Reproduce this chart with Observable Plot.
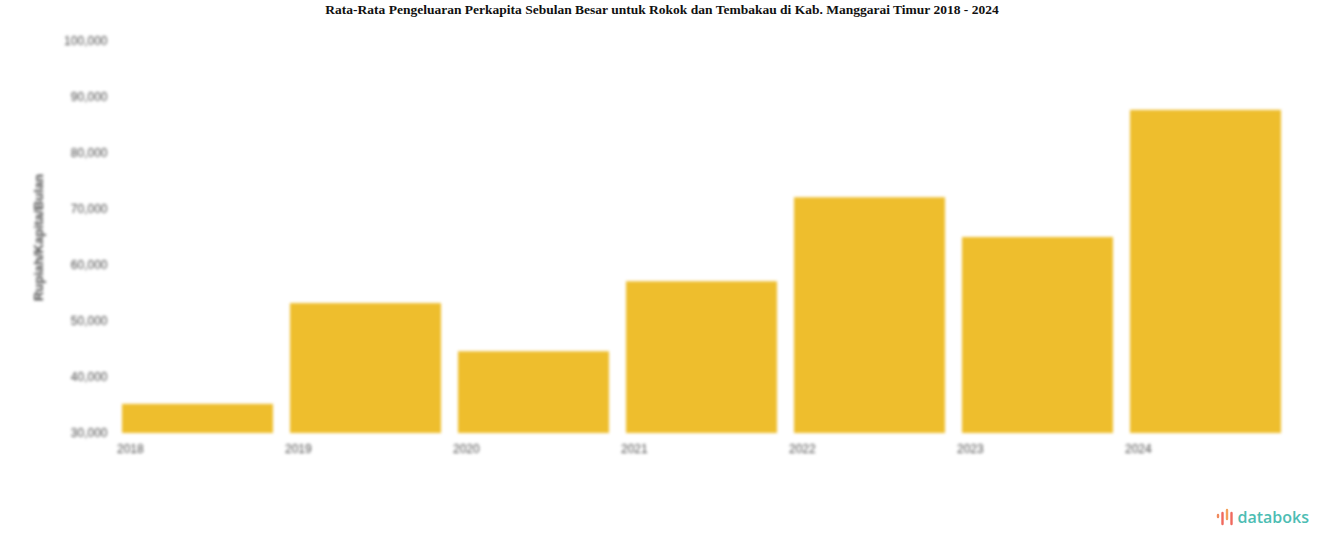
<!DOCTYPE html>
<html>
<head>
<meta charset="utf-8">
<script src="https://cdn.jsdelivr.net/npm/d3@7"></script>
<script src="https://cdn.jsdelivr.net/npm/@observablehq/plot@0.6"></script>
<style>
  html, body { margin: 0; padding: 0; background: #fff; width: 1324px; height: 547px; overflow: hidden; position: relative; }
  #title { height: 20px; line-height: 20px; text-align: center; font-family: "Liberation Serif", "Times New Roman", serif; font-weight: bold; font-size: 13.5px; color: #111; }
  #chart svg { display: block; filter: blur(1.6px); }
  #logo { position: absolute; right: 15px; bottom: 19px; font-family: "Open Sans", "DejaVu Sans", sans-serif; font-size: 16px; font-weight: 600; color: #4dbdb3; display: flex; align-items: center; }
</style>
</head>
<body>
<div id="title">Rata-Rata Pengeluaran Perkapita Sebulan Besar untuk Rokok dan Tembakau di Kab. Manggarai Timur 2018 - 2024</div>
<div id="chart"></div>
<div id="logo"><svg width="20" height="18" viewBox="0 0 20 18" style="margin-right:1px"><g stroke-width="2.4" stroke-linecap="round"><line x1="2" y1="7" x2="2" y2="9" stroke="#f08a5d"/><line x1="6.5" y1="5" x2="6.5" y2="16" stroke="#f0695d"/><line x1="11" y1="2" x2="11" y2="11" stroke="#f5a05a"/><line x1="15.5" y1="5" x2="15.5" y2="16" stroke="#f0695d"/></g></svg>databoks</div>
<script>
const years = ["2018", "2019", "2020", "2021", "2022", "2023", "2024"];
const values = [35200, 53200, 44600, 57100, 72100, 65000, 87700];
const yTicks = [30000, 40000, 50000, 60000, 70000, 80000, 90000, 100000];
const yLabel = "Rupiah/Kapita/Bulan";

const data = years.map((y, i) => ({year: y, value: values[i]}));
const fmt = d3.format(",");

const chart = Plot.plot({
  width: 1324,
  height: 527,
  marginTop: 21,
  marginBottom: 114,
  marginLeft: 114,
  marginRight: 34,
  style: {fontFamily: "Liberation Sans, Arial, sans-serif", fontSize: "12px", color: "#555"},
  x: {domain: years, paddingInner: 0.1, paddingOuter: 0.05, axis: null},
  y: {domain: [30000, 100000], axis: null},
  marks: [
    Plot.gridY(yTicks, {stroke: "#e4e4e4", strokeOpacity: 1, x1: 117, x2: 1290}),
    Plot.barY(data, {x: "year", y1: 30000, y2: "value", fill: "#EEBE2D"}),
    Plot.axisY(yTicks, {tickSize: 0, tickFormat: fmt, fill: "#4a4a4a", fontSize: 12, dx: 2, label: null}),
    Plot.axisX(years, {tickSize: 0, textAnchor: "start", dx: -81, dy: 2, fill: "#4a4a4a", fontSize: 12, label: null}),
    Plot.text([yLabel], {frameAnchor: "left", textAnchor: "middle", dx: -76, rotate: -90, fill: "#4a4a4a", fontSize: 13, fontWeight: "bold"})
  ]
});
document.getElementById("chart").appendChild(chart);
</script>
</body>
</html>
